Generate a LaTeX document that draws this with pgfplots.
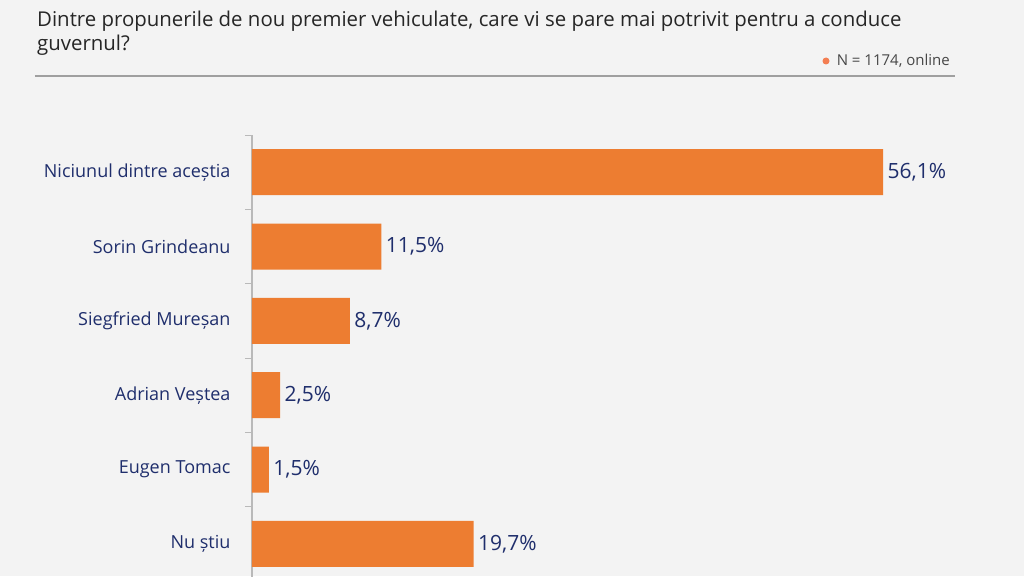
\documentclass[border=0pt]{standalone}
\usepackage{fontspec}
\setmainfont{Open Sans}
\usepackage{pgfplots}
\pgfplotsset{compat=1.18}
\usetikzlibrary{calc,backgrounds}
\definecolor{bg}{HTML}{F3F3F3}
\definecolor{barc}{HTML}{ED7D31}
\definecolor{navy}{HTML}{1F2E6C}
\definecolor{ttl}{HTML}{262626}
\definecolor{dotc}{HTML}{F37E52}
\begin{document}
\begin{tikzpicture}
\begin{axis}[
  scale only axis, width=675pt, height=446pt,
  xbar, xmin=0, xmax=60, ymin=-0.5, ymax=5.5, y dir=reverse,
  axis x line=none, axis y line*=left,
  y axis line style={draw=gray!55, line width=1.2pt, -},
  ytick={0,...,5},
  yticklabels={Niciunul dintre aceștia, Sorin Grindeanu, Siegfried Mureșan, Adrian Veștea, Eugen Tomac, Nu știu},
  major tick length=0pt,
  extra y ticks={-0.5,0.5,1.5,2.5,3.5,4.5,5.5},
  extra y tick labels={},
  extra y tick style={major tick length=7pt, tick style={draw=gray!55, line width=1pt}},
  tick align=outside,
  yticklabel style={font=\fontsize{18}{22}\selectfont, text=navy, xshift=-18pt},
  bar width=46pt,
  /pgf/number format/.cd, fixed, fixed zerofill, precision=1, use comma, assume math mode=true,
  /pgfplots/.cd,
  nodes near coords={\pgfmathprintnumber{\pgfplotspointmeta}\%},
  nodes near coords style={font=\fontsize{21}{26}\selectfont, text=navy, anchor=west, xshift=1pt},
  clip=false,
]
\addplot[fill=barc, draw=none] coordinates {(56.1,0) (11.5,1) (8.7,2) (2.5,3) (1.5,4) (19.7,5)};
\coordinate (TL) at (axis cs:0,-0.5);
\end{axis}
\pgfresetboundingbox
\path[use as bounding box] ($(TL)+(-252pt,135pt)$) rectangle ($(TL)+(772pt,-441pt)$);
\begin{pgfonlayer}{background}
\fill[bg] ($(TL)+(-252pt,135pt)$) rectangle ($(TL)+(772pt,-441pt)$);
\end{pgfonlayer}
\node[anchor=base west, font=\fontsize{20.4}{24}\selectfont, text=ttl, inner sep=0] at ($(TL)+(-215pt,108pt)$) {Dintre propunerile de nou premier vehiculate, care vi se pare mai potrivit pentru a conduce};
\node[anchor=base west, font=\fontsize{20.4}{24}\selectfont, text=ttl, inner sep=0] at ($(TL)+(-215pt,84pt)$) {guvernul?};
\draw[gray!75, line width=1.2pt] ($(TL)+(-217pt,59pt)$) -- ($(TL)+(703pt,59pt)$);
\node[anchor=base east, font=\fontsize{15}{18}\selectfont, text=ttl!85, inner sep=0] at ($(TL)+(698pt,69pt)$) {N = 1174, online};
\fill[dotc] ($(TL)+(574pt,74pt)$) circle (3.5pt);
\end{tikzpicture}
\end{document}
